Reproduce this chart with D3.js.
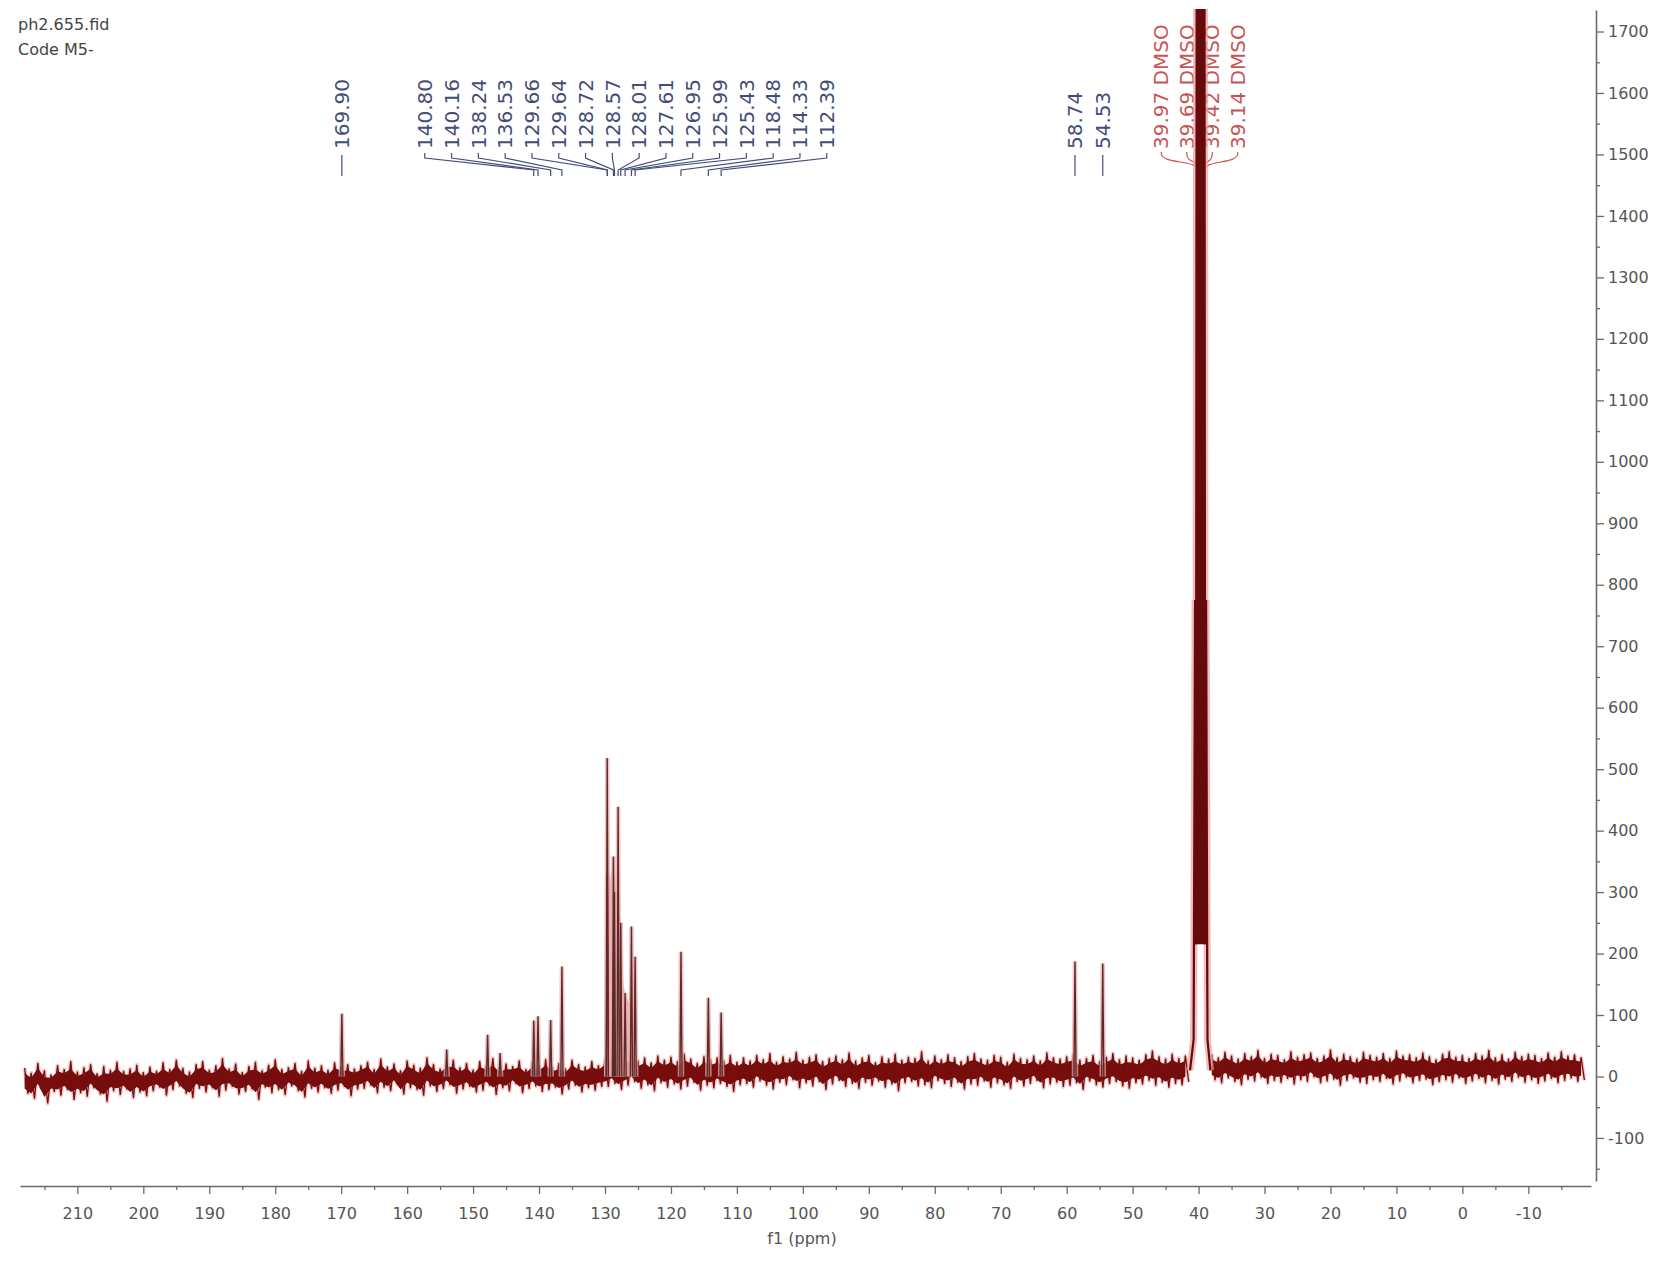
<!DOCTYPE html>
<html>
<head>
<meta charset="utf-8">
<script src="https://cdn.jsdelivr.net/npm/d3@7/dist/d3.min.js"></script>
<style>
  html, body { margin: 0; padding: 0; background: #ffffff; }
  svg { display: block; }
  text { font-family: "DejaVu Sans", sans-serif; }
</style>
</head>
<body>
<svg id="chart" width="1665" height="1261"></svg>
<script>
// ---------------- data ----------------
const headerLines = ["ph2.655.fid", "Code M5-"];
const xLabel = "f1 (ppm)";

// x ticks (ppm) and y ticks (intensity)
const xMajorTicks = [210, 200, 190, 180, 170, 160, 150, 140, 130, 120, 110, 100, 90, 80, 70, 60, 50, 40, 30, 20, 10, 0, -10];
const xMinorTicks = [215, 205, 195, 185, 175, 165, 155, 145, 135, 125, 115, 105, 95, 85, 75, 65, 55, 45, 35, 25, 15, 5, -5, -15];
const yMajorTicks = [-100, 0, 100, 200, 300, 400, 500, 600, 700, 800, 900, 1000, 1100, 1200, 1300, 1400, 1500, 1600, 1700];
const yMinorTicks = [-150, -50, 50, 150, 250, 350, 450, 550, 650, 750, 850, 950, 1050, 1150, 1250, 1350, 1450, 1550, 1650];

// resolved peaks (ppm, height)
const peakPpm    = [169.90, 154.0, 147.8, 145.9, 140.80, 140.16, 138.24, 136.53, 129.66, 129.64, 128.72, 128.57, 128.01, 127.61, 126.95, 125.99, 125.43, 118.48, 114.33, 112.39, 58.74, 54.53];
const peakHeight = [102,    44,    68,    38,    91,     98,     92,     179,    518,    330,    358,    300,    439,    250,    136,    244,    195,    203,    128,    104,    187,   184];

// unresolved overlap under the aromatic cluster
const clusterPpm = [129.80, 129.66, 129.20, 128.72, 128.30, 128.01, 127.80, 127.61, 127.20, 126.95, 126.40, 125.99, 125.70, 125.43, 125.25];
const clusterVal = [0,      420,    320,    358,    300,    420,    270,    250,    150,    136,    120,    200,    150,    170,    0];

// DMSO-d6 septet outline (runs off the top of the plot)
const dmsoPpm = [41.30, 40.75, 40.53, 40.40, 40.25, 40.11, 39.97, 39.83, 39.69, 39.55, 39.42, 39.28, 39.14, 39.00, 38.86, 38.65, 38.20];
const dmsoVal = [10,    60,    775,   215,   2400,  700,   4800,  1600,  5600,  1600,  4800,  700,   2400,  215,   775,   60,    10];
const dmsoValley = 215;

// baseline noise envelope, sampled every 1 ppm from 218 down to -18 (null = under the DMSO signal)
const noiseHi = [
  14, 6, 22, 10, 3, 18, 12, 25, 8, 15, 20, 5, 17, 11, 24, 9, 13, 19, 7,
  16, 9, 23, 12, 27, 14, 8, 20, 25, 11, 18, 30, 13, 21, 7, 17, 24, 10, 19, 28, 12, 15, 22, 9, 26, 14, 18, 11, 23, 16, 20, 13,
  18, 24, 12, 29, 16, 21, 10, 26, 19, 14, 31, 20, 13, 23, 27, 15, 22, 11, 25, 18, 30, 14, 21, 17, 26, 12, 24, 19, 28, 15, 22, 13, 27, 20, 16, 25, 18,
  28, 33, 24, 30, 36, 26, 31, 23, 34, 27, 32, 25, 37, 29, 22, 33, 28, 31, 26, 35, 24,
  31, 26, 35, 28, 38, 24, 33, 29, 40, 27, 32, 36, 25, 30, 34, 28, 39, 26, 31, 35, 23, 33, 29, 37, 27, 32, 30, 41, 26, 34,
  28, 36, 31, 25, 33, 38, 29, 27, 35, 32, 24, 37, 30, 28, 34, 26, 39, 31, 29, 33, 36, 27, 30, 35, 25, 32, 38, 28, 34, 31,
  27, 36, 42, 33, 29, 37, 30, 34,
  null, null, null,
  36, 31, 40, 34, 29, 38, 33, 43, 30, 37, 35, 28, 41, 32, 36, 39, 30, 34, 44, 31, 37, 33, 29, 40, 35, 32, 38, 30, 42, 34,
  36, 31, 39, 33, 28, 37, 41, 32, 35, 30, 38, 34, 43, 31, 36, 29, 40, 33, 37, 35, 30, 39, 32, 41, 34, 36, 31];
const noiseLo = [
  -28, -36, -20, -44, -25, -31, -22, -38, -27, -33, -19, -29, -41, -24, -30, -21, -35, -26, -32,
  -24, -18, -31, -22, -16, -28, -35, -20, -26, -19, -33, -23, -17, -29, -25, -21, -38, -18, -27, -22, -30, -16, -24, -34, -20, -26, -19, -28, -23, -17, -32, -21,
  -20, -15, -27, -18, -24, -13, -29, -19, -22, -31, -16, -25, -20, -14, -28, -21, -17, -26, -23, -15, -30, -19, -24, -12, -27, -20, -16, -25, -22, -18, -29, -21, -15, -26, -19, -23, -17,
  -17, -12, -22, -15, -9, -20, -14, -24, -11, -18, -13, -21, -16, -10, -23, -15, -19, -12, -17, -25, -14,
  -12, -18, -8, -15, -21, -10, -14, -6, -19, -11, -16, -9, -22, -13, -7, -17, -12, -20, -10, -15, -8, -18, -13, -24, -11, -9, -16, -14, -19, -7,
  -12, -17, -10, -21, -13, -15, -8, -18, -11, -14, -20, -9, -16, -12, -7, -19, -13, -10, -17, -15, -11, -22, -8, -14, -18, -12, -9, -16, -20, -11,
  -13, -7, -15, -10, -18, -12, -14, -9,
  null, null, null,
  -6, -11, -3, -9, -14, -5, -8, -2, -12, -7, -10, -4, -13, -6, -9, -1, -11, -8, -5, -15, -7, -3, -10, -12, -6, -9, -4, -13, -8, -2,
  -11, -7, -5, -14, -9, -6, -10, -3, -12, -8, -4, -11, -7, -13, -5, -9, -2, -10, -6, -12, -8, -4, -11, -7, -3, -9, -6];

// peak annotations
const singleLabels  = [169.90, 58.74, 54.53];
const clusterLabels = [140.80, 140.16, 138.24, 136.53, 129.66, 129.64, 128.72, 128.57, 128.01, 127.61, 126.95, 125.99, 125.43, 118.48, 114.33, 112.39];
const dmsoLabels    = [39.97, 39.69, 39.42, 39.14];

// ---------------- drawing ----------------
const svg = d3.select("#chart");
svg.append("rect").attr("width", 1665).attr("height", 1261).attr("fill", "#ffffff");

const x = d3.scaleLinear().domain([218.7, -19.5]).range([20, 1591]);
const y = d3.scaleLinear().domain([-170, 1735]).range([1181, 10]);

const defs = svg.append("defs");
defs.append("clipPath").attr("id", "plotclip")
  .append("rect").attr("x", 15).attr("y", 9).attr("width", 1580).attr("height", 1175);

// ---------------- peak labels (behind the spectrum) ----------------
const labelColor = "#434d78";
const dmsoColor = "#c85555";
const labelFont = "20px";
const textBottom = 149;

function vLabel(g, xPos, str, color) {
  g.append("text")
    .attr("transform", `translate(${xPos},${textBottom}) rotate(-90)`)
    .attr("dy", "0.36em")
    .attr("fill", color).style("font-size", labelFont).text(str);
}

const lab = svg.append("g");
singleLabels.forEach(p => {
  vLabel(lab, x(p), p.toFixed(2), labelColor);
  lab.append("line").attr("x1", x(p)).attr("x2", x(p)).attr("y1", 155).attr("y2", 176)
    .attr("stroke", labelColor).attr("stroke-width", 1.2);
});

const clusterCenter = d3.mean(clusterLabels, p => x(p)) + 9;
const connector = d3.line().curve(d3.curveLinear);
clusterLabels.forEach((p, i) => {
  const xl = clusterCenter + (i - (clusterLabels.length - 1) / 2) * 26.8;
  vLabel(lab, xl, p.toFixed(2), labelColor);
  lab.append("path").attr("d", connector([[xl, 153], [xl, 158], [x(p), 170], [x(p), 176]]))
    .attr("fill", "none").attr("stroke", labelColor).attr("stroke-width", 1.2);
});

const dmsoCenter = d3.mean(dmsoLabels, p => x(p)) - 2;
const curvy = d3.line().curve(d3.curveBasis);
dmsoLabels.forEach((p, i) => {
  const xl = dmsoCenter + (i - (dmsoLabels.length - 1) / 2) * 25.5;
  vLabel(lab, xl, p.toFixed(2) + " DMSO", dmsoColor);
  lab.append("path").attr("d", curvy([[xl, 152], [xl, 160], [x(p), 164], [x(p), 172]]))
    .attr("fill", "none").attr("stroke", dmsoColor).attr("stroke-width", 1.2);
});

// ---------------- spectrum ----------------
const plot = svg.append("g").attr("clip-path", "url(#plotclip)");

// noise
const noiseGrid = d3.range(218, -19, -1);
const zig = [];
noiseGrid.forEach((p, i) => {
  if (noiseHi[i] === null) { zig.push(null); return; }
  zig.push([p, noiseHi[i]]);
  zig.push([p - 0.5, noiseLo[i]]);
});
const zigLine = d3.line().defined(d => d !== null).x(d => x(d[0])).y(d => y(d[1]));
const core = noiseGrid.map((p, i) => noiseHi[i] === null ? null :
  [p, noiseLo[i] + 0.8 * (noiseHi[i] - noiseLo[i]), noiseLo[i] + 0.2 * (noiseHi[i] - noiseLo[i])]);
const coreArea = d3.area().defined(d => d !== null).x(d => x(d[0])).y0(d => y(d[2])).y1(d => y(d[1]));

plot.append("path").attr("d", zigLine(zig)).attr("fill", "none")
  .attr("stroke", "#eba3a3").attr("stroke-width", 4).attr("stroke-linejoin", "round").attr("opacity", 0.55);
plot.append("path").attr("d", coreArea(core)).attr("fill", "#760d0d");
plot.append("path").attr("d", zigLine(zig)).attr("fill", "none")
  .attr("stroke", "#7a0e0e").attr("stroke-width", 1.3).attr("stroke-linejoin", "miter");

// cluster overlap fill
const clusterArea = d3.area().x(d => x(d[0])).y0(y(0)).y1(d => y(d[1]));
plot.append("path")
  .attr("d", clusterArea(clusterPpm.map((p, i) => [p, clusterVal[i]])))
  .attr("fill", "#e7a2a2").attr("opacity", 0.75);

// peaks
const peakLine = d3.line().x(d => x(d[0])).y(d => y(d[1]));
const peakPts = peakPpm.map((p, i) => [[p + 0.16, 0], [p, peakHeight[i]], [p - 0.16, 0]]);
plot.selectAll("path.halo").data(peakPts).join("path").attr("class", "halo")
  .attr("d", peakLine).attr("fill", "none").attr("stroke", "#eda8a8")
  .attr("stroke-width", 4.5).attr("opacity", 0.7);
plot.selectAll("path.peak").data(peakPts).join("path").attr("class", "peak")
  .attr("d", peakLine).attr("fill", "none").attr("stroke", "#5c2a2a")
  .attr("stroke-width", 1.4);

// DMSO
const dmsoPts = dmsoPpm.map((p, i) => [p, dmsoVal[i]]);
const dmsoArea = d3.area().x(d => x(d[0]))
  .y0(d => y(Math.min(d[1], dmsoValley))).y1(d => y(d[1]));
plot.append("path").attr("d", peakLine(dmsoPts)).attr("fill", "none")
  .attr("stroke", "#eda0a0").attr("stroke-width", 7).attr("opacity", 0.7);
plot.append("path").attr("d", dmsoArea(dmsoPts)).attr("fill", "#650b0b");
plot.append("path").attr("d", peakLine(dmsoPts)).attr("fill", "none")
  .attr("stroke", "#650b0b").attr("stroke-width", 2.2);

// ---------------- axes ----------------
const axisColor = "#6b6b6b";
const textColor = "#555555";

const xAxis = svg.append("g").attr("transform", "translate(0,1186)")
  .call(d3.axisBottom(x).tickValues(xMajorTicks).tickSize(8).tickPadding(14).tickSizeOuter(0).tickFormat(d => String(d)));
const xMinor = svg.append("g").attr("transform", "translate(0,1186)")
  .call(d3.axisBottom(x).tickValues(xMinorTicks).tickSize(4).tickSizeOuter(0).tickFormat(""));
xMinor.select(".domain").remove();

const yAxis = svg.append("g").attr("transform", "translate(1596,0)")
  .call(d3.axisRight(y).tickValues(yMajorTicks).tickSize(8).tickPadding(4).tickSizeOuter(0).tickFormat(d => String(d)));
const yMinor = svg.append("g").attr("transform", "translate(1596,0)")
  .call(d3.axisRight(y).tickValues(yMinorTicks).tickSize(4).tickSizeOuter(0).tickFormat(""));
yMinor.select(".domain").remove();

[xAxis, xMinor, yAxis, yMinor].forEach(g => {
  g.selectAll("path.domain").attr("stroke", axisColor).attr("stroke-width", 1.6);
  g.selectAll(".tick line").attr("stroke", axisColor).attr("stroke-width", 1.3);
  g.selectAll(".tick text").attr("fill", textColor).style("font-size", "16px")
    .style("font-family", "DejaVu Sans, sans-serif");
});

svg.append("text").attr("x", 802).attr("y", 1244).attr("text-anchor", "middle")
  .attr("fill", textColor).style("font-size", "16px").text(xLabel);

// header
svg.selectAll("text.hdr").data(headerLines).join("text").attr("class", "hdr")
  .attr("x", 18).attr("y", (d, i) => 30 + i * 25)
  .attr("fill", "#444").style("font-size", "16px").text(d => d);
</script>
</body>
</html>
